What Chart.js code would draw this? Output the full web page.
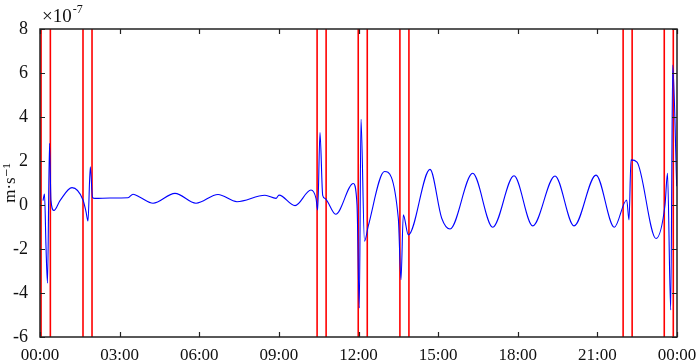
<!DOCTYPE html>
<html>
<head>
<meta charset="utf-8">
<script src="https://cdn.jsdelivr.net/npm/chart.js@4"></script>
<style>
  body { margin: 0; background: #fff; }
  #wrap { width: 700px; height: 360px; }
</style>
</head>
<body>
<div id="wrap"><canvas id="accel-chart" width="700" height="360"></canvas></div>
<script>
// hours since 00:00
const times = [
  0.113, 0.170, 0.226, 0.283, 0.358, 0.414, 0.527, 0.754, 1.206, 1.620,
  1.733, 1.808, 1.895, 1.978, 2.072, 2.637, 3.316, 3.504, 3.768, 4.258,
  5.086, 5.878, 6.707, 7.422, 8.477, 8.892, 9.005, 9.608, 10.210, 10.399,
  10.463, 10.549, 10.651, 10.738, 11.141, 11.804, 11.944, 12.030, 12.094, 12.226,
  12.369, 12.980, 13.500, 13.601, 13.688, 13.877, 14.694, 15.135, 15.448, 16.303,
  17.057, 17.859, 18.564, 19.404, 20.120, 20.949, 21.638, 22.105, 22.192, 22.267,
  22.493, 23.209, 23.548, 23.642, 23.763, 23.838, 23.989,
];
// acceleration in units of 1e-7 m/s^2
const values = [
  0.20, 0.50, -1.90, -3.55, 2.80, 0.20, -0.25, 0.20, 0.79, 0.23,
  -0.30, -0.73, 1.74, 0.35, 0.30, 0.32, 0.33, 0.49, 0.35, 0.08,
  0.53, 0.08, 0.48, 0.15, 0.44, 0.30, 0.45, -0.03, 0.68, 0.30,
  -0.23, 3.29, 0.44, 0.30, -0.42, 0.98, 0.00, -4.68, 3.90, -1.65,
  -0.95, 1.52, -0.60, -3.40, -0.45, -1.36, 1.62, -0.60, -1.09, 1.44,
  -1.01, 1.33, -0.95, 1.32, -0.95, 1.36, -1.01, 0.23, -0.68, 2.05,
  1.95, -1.52, 0.00, 1.44, -4.77, 6.36, 0.85,
];
// red marker lines (hours)
const event_times = [
  0.04, 0.39, 1.62, 1.96, 10.44, 10.78, 11.99, 12.33,
  13.56, 13.90, 21.97, 22.31, 23.52, 23.86,
];
const x_ticks = [0, 3, 6, 9, 12, 15, 18, 21, 24];
const x_tick_labels = ['00:00', '03:00', '06:00', '09:00', '12:00', '15:00', '18:00', '21:00', '00:00'];
const y_min = -6;
const y_max = 8;

const serif = "'Liberation Serif', 'DejaVu Serif', serif";

let datasets = [{
  label: 'signal',
  data: times.map((t, i) => ({ x: t, y: values[i] })),
  borderColor: '#0000ff',
  borderWidth: 1.1,
  pointRadius: 0,
  cubicInterpolationMode: 'monotone',
}];
for (let i = 0; i < event_times.length; ++i) {
  datasets.push({
    label: 'event ' + i,
    data: [{ x: event_times[i], y: y_min }, { x: event_times[i], y: y_max }],
    borderColor: '#ff0000',
    borderWidth: 1.6,
    borderCapStyle: 'butt',
    pointRadius: 0,
  });
}

// box frame, inward ticks and the x10^-7 factor
const frame_plugin = {
  id: 'frame',
  afterDraw(chart) {
    const c = chart.ctx;
    const a = chart.chartArea;
    const xs = chart.scales.x;
    const ys = chart.scales.y;
    const len = 5;
    c.save();
    c.strokeStyle = '#222';
    c.lineWidth = 1.2;
    c.beginPath();
    x_ticks.forEach(v => {
      const px = Math.round(xs.getPixelForValue(v)) + 0.5;
      c.moveTo(px, a.bottom); c.lineTo(px, a.bottom - len);
      c.moveTo(px, a.top); c.lineTo(px, a.top + len);
    });
    for (let v = y_min; v <= y_max; v += 2) {
      const py = Math.round(ys.getPixelForValue(v)) + 0.5;
      c.moveTo(a.left, py); c.lineTo(a.left + len, py);
      c.moveTo(a.right, py); c.lineTo(a.right - len, py);
    }
    c.stroke();
    c.lineWidth = 1.5;
    c.strokeRect(a.left, a.top, a.right - a.left, a.bottom - a.top);
    c.fillStyle = '#111';
    c.textBaseline = 'alphabetic';
    c.font = '19px ' + serif;
    c.fillText('\u00d710', a.left + 2, a.top - 7);
    const w = c.measureText('\u00d710').width;
    c.font = '12px ' + serif;
    c.fillText('-7', a.left + 3 + w, a.top - 16);
    c.restore();
  },
};

const ctx_accel = document.getElementById('accel-chart');
const accelChart = new Chart(ctx_accel, {
  type: 'line',
  data: { datasets: datasets },
  options: {
    responsive: false,
    animation: false,
    layout: { padding: { top: 29, right: 23, left: 0, bottom: 0 } },
    plugins: { legend: { display: false }, tooltip: { enabled: false } },
    scales: {
      x: {
        type: 'linear',
        min: 0,
        max: 24,
        afterBuildTicks: scale => { scale.ticks = x_ticks.map(v => ({ value: v })); },
        afterFit: scale => { scale.height = 23; },
        grid: { display: false },
        border: { display: false },
        ticks: {
          autoSkip: false,
          maxRotation: 0,
          padding: 0,
          color: '#111',
          font: { family: serif, size: 17 },
          callback: v => x_tick_labels[x_ticks.indexOf(v)],
        },
      },
      y: {
        min: y_min,
        max: y_max,
        afterFit: scale => { scale.width = 40; },
        grid: { display: false },
        border: { display: false },
        ticks: {
          stepSize: 2,
          padding: 4,
          color: '#111',
          font: { family: serif, size: 18 },
        },
        title: {
          display: true,
          text: 'm\u00b7s\u207b\u00b9',
          color: '#111',
          font: { family: serif, size: 17 },
          padding: { top: 0, bottom: 0 },
        },
      },
    },
  },
  plugins: [frame_plugin],
});
</script>
</body>
</html>
